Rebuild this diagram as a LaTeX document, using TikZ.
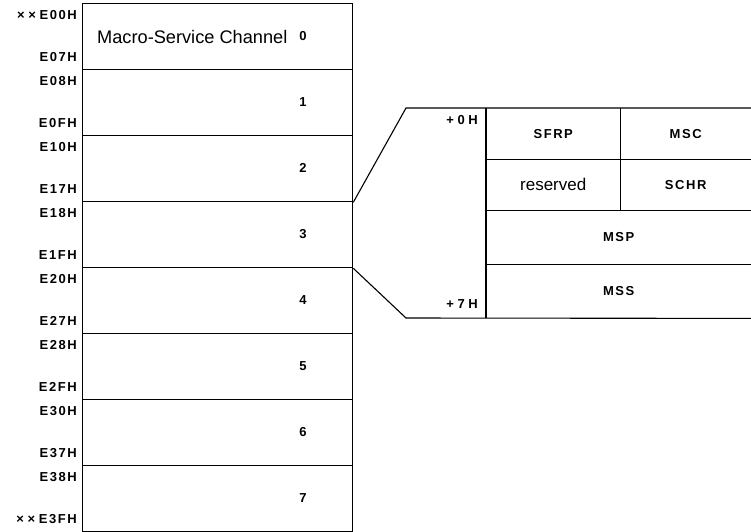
\documentclass[tikz,border=0pt]{standalone}
\usepackage{fontspec}
\setmainfont{Liberation Sans}
\newfontfamily\lblfont[LetterSpace=12]{Liberation Sans}
\begin{document}
\begin{tikzpicture}[x=1pt,y=-1pt,
  rowbox/.style={draw, line width=1.3pt, minimum width=270pt, minimum height=66pt, inner sep=0pt, anchor=north west},
  cell/.style={inner sep=0pt, anchor=north west},
  tline/.style={line width=1.1pt},
  addr/.style={anchor=east, inner sep=0pt, font=\lblfont\bfseries\fontsize{13}{14}\selectfont},
  num/.style={inner sep=0pt, font=\bfseries\fontsize{13}{14}\selectfont},
  fld/.style={inner sep=0pt, font=\lblfont\bfseries\fontsize{13}{14}\selectfont},
  big/.style={inner sep=0pt, font=\fontsize{18.2}{21}\selectfont}]
\useasboundingbox (0,0) rectangle (751,531);
% channel rows
\foreach \i in {0,...,7} {
  \node[rowbox] (r\i) at (82,{3+66*\i}) {};
  \node[num] (n\i) at (303,{36+66*\i}) {\i};
}
\node[big, anchor=west] (mt) at (97,37) {Macro-Service Channel};
% addresses
\node[addr] (a00) at (77,15) {×\;×\;E00H};
\node[addr] (a07) at (77,57) {E07H};
\node[addr] (a08) at (77,81) {E08H};
\node[addr] (a0f) at (77,123) {E0FH};
\node[addr] (a10) at (77,147) {E10H};
\node[addr] (a17) at (77,189) {E17H};
\node[addr] (a18) at (77,213) {E18H};
\node[addr] (a1f) at (77,255) {E1FH};
\node[addr] (a20) at (77,279) {E20H};
\node[addr] (a27) at (77,321) {E27H};
\node[addr] (a28) at (77,345) {E28H};
\node[addr] (a2f) at (77,387) {E2FH};
\node[addr] (a30) at (77,411) {E30H};
\node[addr] (a37) at (77,453) {E37H};
\node[addr] (a38) at (77,477) {E38H};
\node[addr] (a3f) at (77,519) {×\;×\;E3FH};
% expansion table cells
\node[cell, minimum width=134pt, minimum height=51pt] (sfrp) at (486,108) {};
\node[cell, minimum width=131pt, minimum height=51pt] (msc) at (620,108) {};
\node[cell, minimum width=134pt, minimum height=51pt] (res) at (486,159) {};
\node[cell, minimum width=131pt, minimum height=51pt] (schr) at (620,159) {};
\node[cell, minimum width=265pt, minimum height=54pt] (msp) at (486,210) {};
\node[cell, minimum width=265pt, minimum height=54pt] (mss) at (486,264) {};
\node[fld] at (sfrp.center) {SFRP};
\node[fld] at (msc.center) {MSC};
\node[big, font=\fontsize{17}{20}\selectfont] at (res.center) {reserved};
\node[fld] at (schr.center) {SCHR};
\node[fld] at (msp.center) {MSP};
\node[fld] at (mss.center) {MSS};
\coordinate (t0) at (406,108);
\coordinate (b0) at (406,318);
\node[fld, anchor=east] (p0) at (478,120) {+\;0\;H};
\node[fld, anchor=east] (p7) at (478,304) {+\;7\;H};
% connectors and table lines
\draw[tline] (r2.south east) -- (t0) -- (msc.north east);
\draw[tline] (r3.south east) -- (b0) -- (mss.south east);
\draw[tline] (sfrp.north west) -- (mss.south west);
\draw[tline] (sfrp.north east) -- (res.south east);
\draw[tline] (sfrp.south west) -- (msc.south east);
\draw[tline] (res.south west) -- (schr.south east);
\draw[tline] (msp.south west) -- (msp.south east);
\end{tikzpicture}
\end{document}
